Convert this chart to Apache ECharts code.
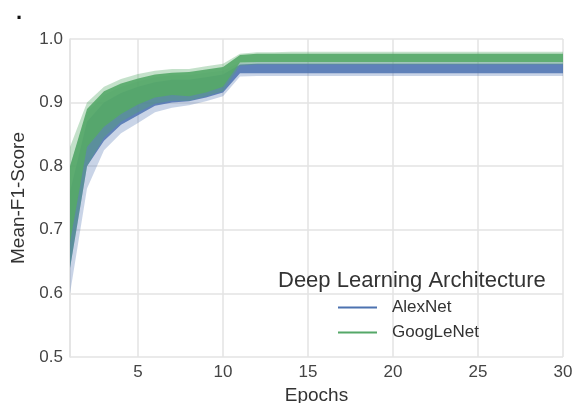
<!DOCTYPE html>
<html lang="en">
<head>
    <meta charset="UTF-8">
    <script src="https://cdn.jsdelivr.net/npm/echarts@6/dist/echarts.min.js"></script>
    <title>Mean F1 score per epoch</title>
</head>
<body style="margin:0; background:#fff;">
<div id="container" style="width:573px; height:403px;"></div>
<script>
    // epochs 1..30
    let epochs = [];
    for (let i = 1; i <= 30; i++) epochs.push(String(i));

    let yTicks = [0.5, 0.6, 0.7, 0.8, 0.9, 1.0];

    // AlexNet bundle: outer envelope + dense core
    let alexUpper   = [0.800,0.885,0.912,0.925,0.933,0.940,0.943,0.943,0.947,0.950,0.963,0.964,0.964,0.964,0.964,0.964,0.964,0.964,0.964,0.964,0.964,0.964,0.964,0.964,0.964,0.964,0.964,0.964,0.964,0.964];
    let alexCoreUp  = [0.760,0.870,0.900,0.915,0.925,0.932,0.936,0.936,0.940,0.944,0.960,0.961,0.961,0.961,0.961,0.961,0.961,0.961,0.961,0.961,0.961,0.961,0.961,0.961,0.961,0.961,0.961,0.961,0.961,0.961];
    let alexCoreLow = [0.640,0.800,0.840,0.865,0.880,0.895,0.900,0.902,0.908,0.916,0.946,0.946,0.946,0.946,0.946,0.946,0.946,0.946,0.946,0.946,0.946,0.946,0.946,0.946,0.946,0.946,0.946,0.946,0.946,0.946];
    let alexLower   = [0.600,0.765,0.825,0.852,0.868,0.885,0.892,0.896,0.902,0.910,0.941,0.942,0.942,0.942,0.942,0.942,0.942,0.942,0.942,0.942,0.942,0.942,0.942,0.942,0.942,0.942,0.942,0.942,0.942,0.942];

    // GoogLeNet bundle
    let googUpper   = [0.830,0.900,0.925,0.937,0.945,0.950,0.953,0.953,0.957,0.961,0.977,0.979,0.979,0.980,0.980,0.980,0.980,0.980,0.980,0.980,0.980,0.980,0.980,0.980,0.980,0.980,0.980,0.980,0.980,0.980];
    let googCoreUp  = [0.800,0.890,0.918,0.930,0.938,0.944,0.947,0.948,0.952,0.956,0.975,0.977,0.977,0.977,0.977,0.977,0.977,0.977,0.977,0.977,0.977,0.977,0.977,0.977,0.977,0.977,0.977,0.977,0.977,0.977];
    let googCoreLow = [0.680,0.830,0.862,0.882,0.897,0.908,0.912,0.910,0.916,0.925,0.963,0.964,0.964,0.964,0.964,0.964,0.964,0.964,0.964,0.964,0.964,0.964,0.964,0.964,0.964,0.964,0.964,0.964,0.964,0.964];
    let googLower   = [0.640,0.800,0.845,0.870,0.885,0.898,0.903,0.903,0.910,0.918,0.958,0.960,0.960,0.960,0.960,0.960,0.960,0.960,0.960,0.960,0.960,0.960,0.960,0.960,0.960,0.960,0.960,0.960,0.960,0.960];

    let names = ['AlexNet', 'GoogLeNet'];
    let colors = ['#4C72B0', '#55A868'];

    let dom = document.getElementById('container');
    let myChart = echarts.init(dom);
    let font = 'Liberation Sans, Arial, sans-serif';

    // band = invisible base line + stacked difference with fill
    function band(id, lo, hi, color, opacity) {
        return [
            {
                name: id + '-base', type: 'line', stack: id, data: lo,
                symbol: 'none', lineStyle: {opacity: 0}, silent: true
            },
            {
                name: id + '-fill', type: 'line', stack: id,
                data: hi.map(function (v, i) { return +(v - lo[i]).toFixed(3); }),
                symbol: 'none', lineStyle: {opacity: 0}, silent: true,
                areaStyle: {color: color, opacity: opacity}
            }
        ];
    }

    let isMajor = function (idx, val) { return (+val) % 5 === 0; };
    let gridIdx = function (idx, val) { return idx === 0 || (+val) % 5 === 0; };

    let series = []
        .concat(band('alexOuter', alexLower, alexUpper, colors[0], 0.3))
        .concat(band('alexCore', alexCoreLow, alexCoreUp, colors[0], 0.85))
        .concat(band('googOuter', googLower, googUpper, colors[1], 0.35))
        .concat(band('googCore', googCoreLow, googCoreUp, colors[1], 0.9));
    // legend entries
    names.forEach(function (n, i) {
        series.push({name: n, type: 'line', data: [], color: colors[i], symbol: 'none'});
    });

    let option = {
        backgroundColor: '#fff',
        animation: false,
        textStyle: {fontFamily: font},
        title: {
            text: 'Deep Learning Architecture',
            left: 273, top: 265,
            textStyle: {fontSize: 22, fontWeight: 'normal', color: '#333', fontFamily: font}
        },
        legend: {
            data: names,
            orient: 'vertical',
            left: 333, top: 294,
            icon: 'rect',
            itemWidth: 39, itemHeight: 2,
            itemGap: 8,
            textStyle: {fontSize: 17, color: '#333', padding: [0, 0, 0, 10], fontFamily: font}
        },
        graphic: [{
            type: 'text', left: 16, top: 2,
            style: {text: '.', fontSize: 22, fontWeight: 'bold', fill: '#111'}
        }],
        grid: {left: 70, right: 10, top: 39, bottom: 46, outerBoundsMode: 'none'},
        xAxis: {
            type: 'category',
            data: epochs,
            boundaryGap: false,
            name: 'Epochs',
            nameLocation: 'middle',
            nameGap: 25,
            nameTextStyle: {fontSize: 19, color: '#333'},
            axisLine: {show: false},
            axisTick: {show: false, interval: gridIdx},
            axisLabel: {interval: isMajor, fontSize: 17, color: '#444', margin: 7},
            splitLine: {show: true, interval: gridIdx, lineStyle: {color: '#e3e3e3', width: 1.5}}
        },
        yAxis: {
            type: 'value',
            min: yTicks[0], max: yTicks[yTicks.length - 1], interval: 0.1,
            name: 'Mean-F1-Score',
            nameLocation: 'middle',
            nameGap: 37,
            nameTextStyle: {fontSize: 19, color: '#333'},
            axisLine: {show: true, lineStyle: {color: '#e3e3e3', width: 1.5}},
            axisTick: {show: false},
            axisLabel: {fontSize: 17, color: '#444', margin: 7,
                formatter: function (v) { return v.toFixed(1); }},
            splitLine: {show: true, lineStyle: {color: '#e3e3e3', width: 1.5}}
        },
        series: series
    };

    myChart.setOption(option);
</script>
</body>
</html>
